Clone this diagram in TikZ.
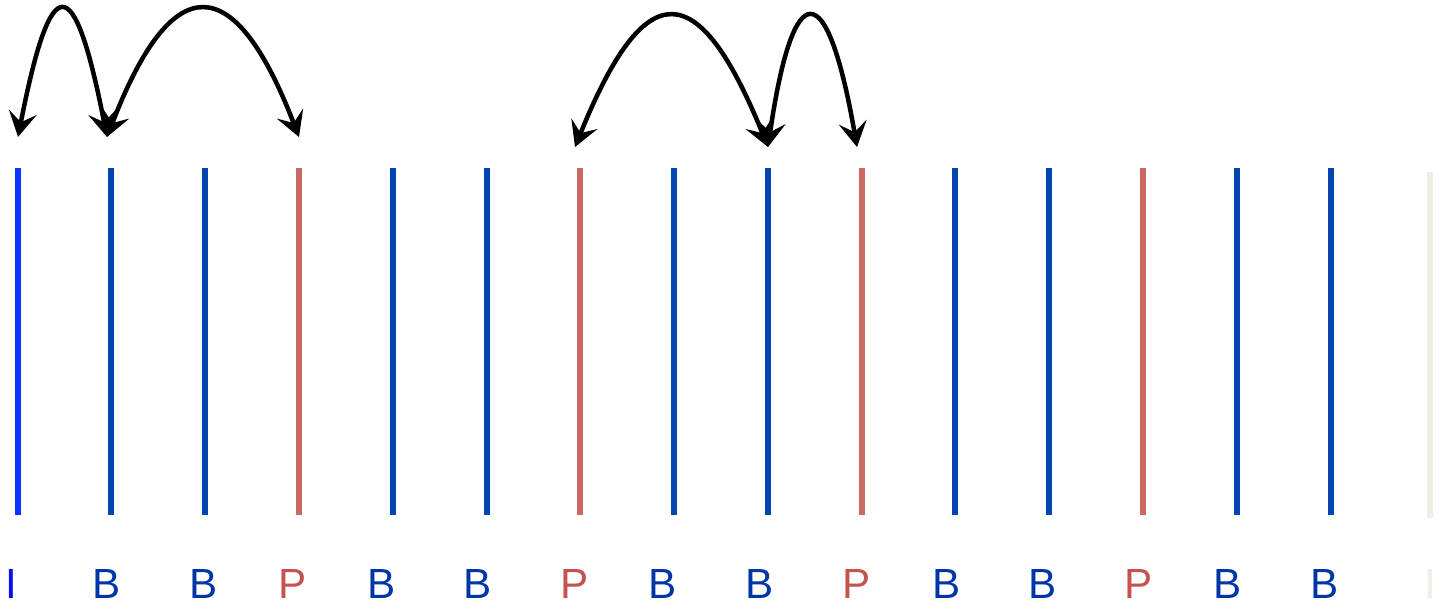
\documentclass[tikz,border=0pt]{standalone}
\usepackage{fontspec}
\setmainfont{Liberation Sans}
\usepackage{tikz}
\usetikzlibrary{arrows.meta}

\definecolor{iline}{HTML}{0A33FF}
\definecolor{itext}{HTML}{0A10F5}
\definecolor{bline}{HTML}{0046B0}
\definecolor{btext}{HTML}{0035A8}
\definecolor{pline}{HTML}{CC6864}
\definecolor{ptext}{HTML}{C4524E}
\definecolor{faint}{HTML}{EEEEE2}

\begin{document}
\begin{tikzpicture}[x=0.02cm, y=-0.02cm,
    frame/.style={line width=0.11cm},
    ftype/.style={font=\fontsize{24}{28}\selectfont, anchor=base, inner sep=0pt},
    jump/.style={{Stealth[length=0.5cm,width=0.56cm,inset=0.2cm]}-{Stealth[length=0.5cm,width=0.56cm,inset=0.2cm]}, line width=0.09cm}
]
    \useasboundingbox (0,0) rectangle (1439,606);

    % frames of the GOP
    \foreach \i/\x/\lx/\t/\lc/\tc in {1/18/11/I/iline/itext, 2/111/107/B/bline/btext, 3/205/204/B/bline/btext,
        4/299/293/P/pline/ptext, 5/393/382/B/bline/btext, 6/487/478/B/bline/btext, 7/580/575/P/pline/ptext,
        8/674/663/B/bline/btext, 9/768/760/B/bline/btext, 10/862/857/P/pline/ptext, 11/955/947/B/bline/btext,
        12/1049/1043/B/bline/btext, 13/1143/1139/P/pline/ptext, 14/1237/1228/B/bline/btext, 15/1331/1325/B/bline/btext}{
        \draw[frame, draw=\lc] (\x,168) -- (\x,515);
        \coordinate (top\i) at (\x,137);
        \node[ftype, text=\tc] (lbl\i) at (\lx,598) {\t};
    }
    \draw[frame, draw=faint] (1430,172) -- (1430,518);
    \node[ftype, text=faint] (lbl16) at (1430,598) {I};

    % references
    \draw[jump] (top1) .. controls +(33,-169) and +(-33,-169) .. ([xshift=-0.08cm]top2);
    \draw[jump] ([xshift=-0.08cm]top2) .. controls +(65,-169) and +(-65,-169) .. (top4);
    \draw[jump] ([yshift=-0.2cm,xshift=-0.1cm]top7) .. controls +(70,-173) and +(-70,-173) .. ([yshift=-0.2cm]top9);
    \draw[jump] ([yshift=-0.2cm]top9) .. controls +(25,-173) and +(-30,-173) .. ([yshift=-0.2cm,xshift=-0.1cm]top10);
\end{tikzpicture}
\end{document}
